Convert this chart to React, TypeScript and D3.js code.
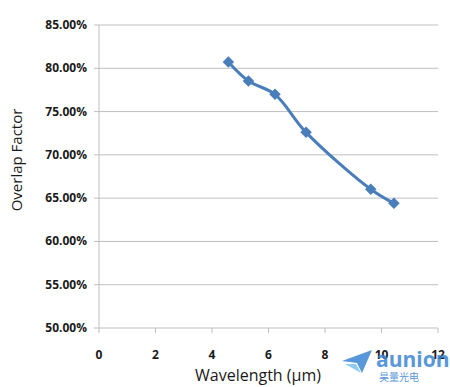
import React from 'react';
import * as d3 from 'd3';

// --- Data ---
const wavelengths = [4.58, 5.29, 6.23, 7.33, 9.62, 10.44];
const overlap = [0.8073, 0.7853, 0.7699, 0.726, 0.6602, 0.644];
const yTicks = [0.5, 0.55, 0.6, 0.65, 0.7, 0.75, 0.8, 0.85];
const xTicks = [0, 2, 4, 6, 8, 10, 12];

const W = 450, H = 387;
const left = 99, right = 438, top = 25, bottom = 328;
const FONT = "'Open Sans', 'DejaVu Sans', sans-serif";

export default function App() {
  const x = d3.scaleLinear().domain([0, 12]).range([left, right]);
  const y = d3.scaleLinear().domain([0.5, 0.85]).range([bottom, top]);
  const pts: [number, number][] = wavelengths.map((w, i) => [x(w), y(overlap[i])]);
  const line = d3.line().curve(d3.curveCatmullRom.alpha(0.5))(pts) || '';
  const diamond = d3.symbol().type(d3.symbolDiamond2).size(85)() || '';
  const fmt = d3.format('.2%');

  return (
    <svg width={W} height={H} style={{ position: 'absolute', left: 0, top: 0, background: '#fff' }}>
      {/* gridlines + y labels */}
      {yTicks.map(t => (
        <g key={t}>
          <line x1={left - 5} x2={right} y1={y(t)} y2={y(t)} stroke="#bfbfbf" strokeWidth={1} />
          <text x={87} y={y(t) + 4} textAnchor="end" fontFamily={FONT} fontSize={12} fontWeight="bold" fill="#1a1a1a">{fmt(t)}</text>
        </g>
      ))}
      <line x1={left} x2={left} y1={top} y2={bottom} stroke="#bfbfbf" />
      {xTicks.map(t => (
        <g key={t}>
          <line x1={x(t)} x2={x(t)} y1={bottom} y2={bottom + 5} stroke="#bfbfbf" />
          <text x={x(t)} y={359} textAnchor="middle" fontFamily={FONT} fontSize={12} fontWeight="bold" fill="#1a1a1a">{t}</text>
        </g>
      ))}
      {/* series */}
      <path d={line} fill="none" stroke="#4a7ebb" strokeWidth={3} />
      {pts.map((p, i) => (
        <path key={i} d={diamond} transform={`translate(${p[0]},${p[1]})`} fill="#4a7ebb" />
      ))}
      {/* axis titles */}
      <text x={258} y={381} textAnchor="middle" fontFamily={FONT} fontSize={16} fill="#1a1a1a">Wavelength (μm)</text>
      <text transform="translate(22,160) rotate(-90)" textAnchor="middle" fontFamily={FONT} fontSize={15} fill="#1a1a1a">Overlap Factor</text>
      {/* watermark */}
      <g opacity={0.85}>
        <path d="M342,361 L372,350 L362,373 L357,363 Z" fill="#3a86d4" />
        <path d="M345,364 L356,364 L361,373 Z" fill="#7cc4ee" />
        <text x={376} y={367} fontFamily={FONT} fontSize={21} fontWeight="bold" fill="#3a86d4">aunion</text>
        <text x={379} y={381} fontFamily="'Noto Sans CJK SC', sans-serif" fontSize={10} fill="#3a86d4">昊量光电</text>
      </g>
    </svg>
  );
}
